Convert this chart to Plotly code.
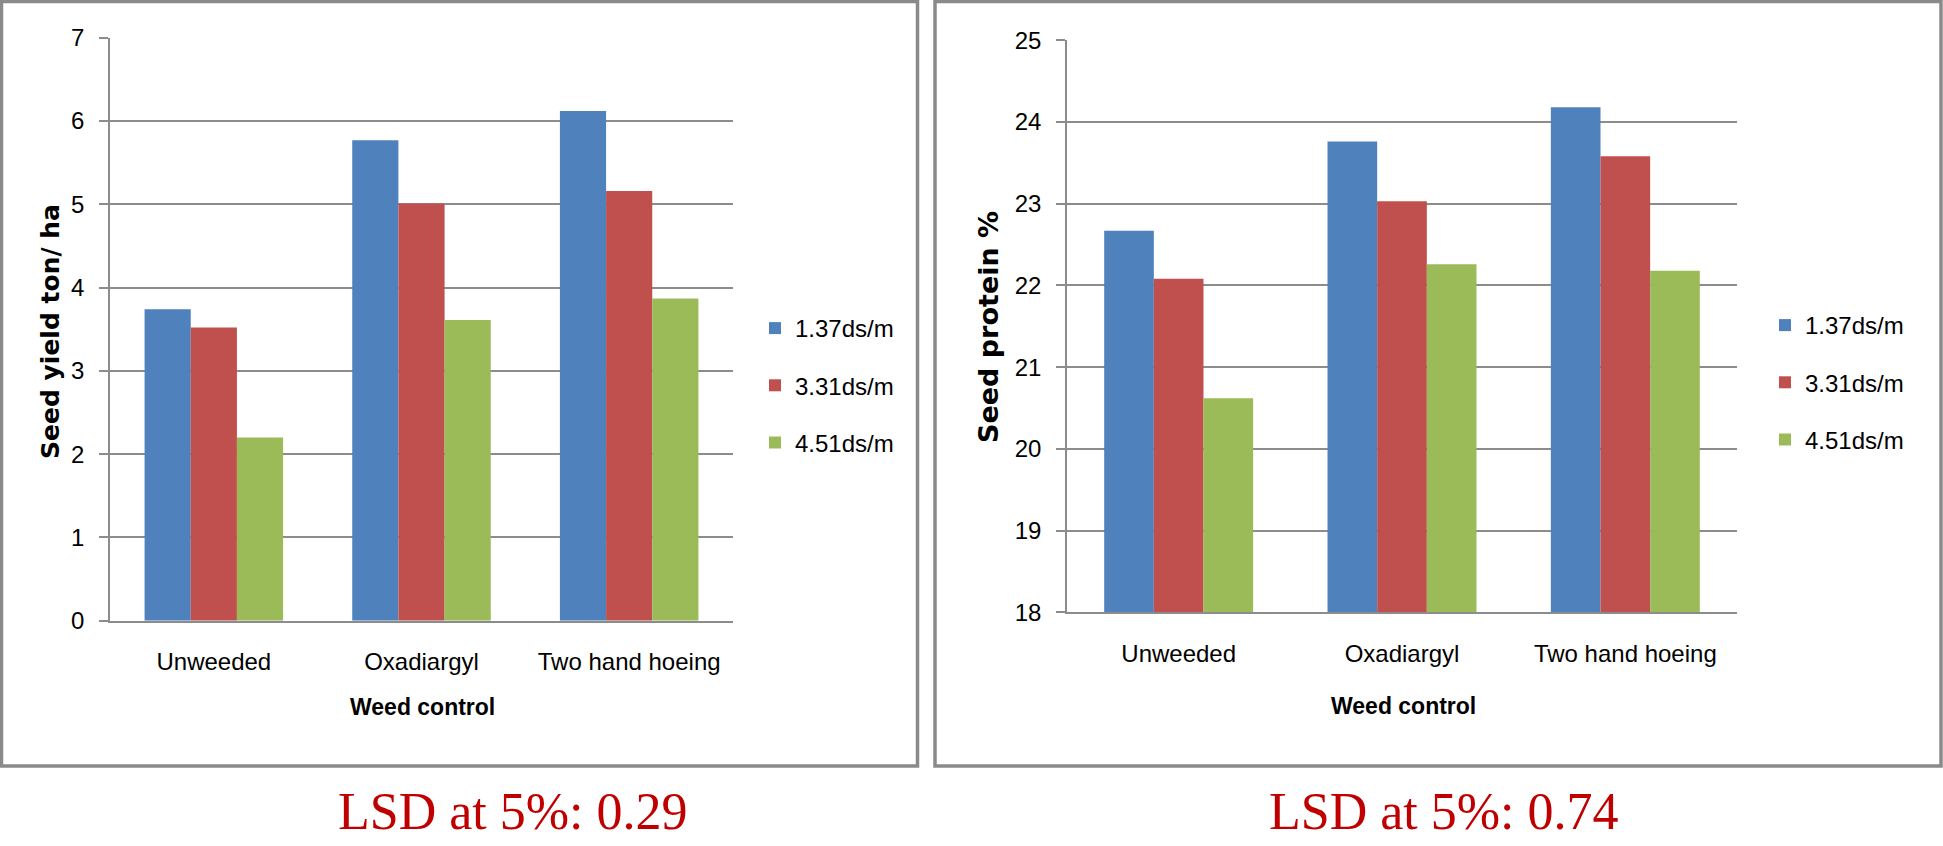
import plotly.graph_objects as go

# categories and series
weed_control = ["Unweeded", "Oxadiargyl", "Two hand hoeing"]
salinity = ["1.37ds/m", "3.31ds/m", "4.51ds/m"]

yield_137 = [3.74, 5.77, 6.12]
yield_331 = [3.52, 5.01, 5.16]
yield_451 = [2.20, 3.61, 3.87]

protein_137 = [22.67, 23.76, 24.18]
protein_331 = [22.08, 23.03, 23.58]
protein_451 = [20.62, 22.26, 22.18]

lsd_yield = "0.29"
lsd_protein = "0.74"

W, H = 1943, 846
colors = ["#4F81BD", "#C0504D", "#9BBB59"]
GRID = "#8c8c8c"
SANS = "Liberation Sans, Arial, sans-serif"


def px(x):
    return x / W


def py(y):
    return 1 - y / H


fig = go.Figure()

for i, vals in enumerate([yield_137, yield_331, yield_451]):
    fig.add_trace(go.Bar(x=weed_control, y=vals, name=salinity[i],
                         marker=dict(color=colors[i], line=dict(width=0)),
                         xaxis="x", yaxis="y", legend="legend",
                         legendgroup="a%d" % i))

for i, vals in enumerate([protein_137, protein_331, protein_451]):
    fig.add_trace(go.Bar(x=weed_control, y=vals, name=salinity[i],
                         marker=dict(color=colors[i], line=dict(width=0)),
                         xaxis="x2", yaxis="y2", legend="legend2",
                         legendgroup="b%d" % i))

tick_font = dict(family=SANS, size=24, color="#000000")

xcommon = dict(showline=True, linecolor=GRID, linewidth=1.5, ticks="",
               tickfont=tick_font, showgrid=False, ticklabelstandoff=19,
               automargin=False)
ycommon = dict(showgrid=True, gridcolor=GRID, gridwidth=1.5, showline=True,
               linecolor=GRID, linewidth=1.5, ticks="outside", ticklen=9,
               tickcolor=GRID, tickwidth=1.5, dtick=1, zeroline=False,
               tickfont=tick_font, ticklabelstandoff=10, automargin=False)

legend_common = dict(xanchor="left", yanchor="top", font=dict(family=SANS, size=24, color="#000000"),
                     bgcolor="rgba(0,0,0,0)", tracegroupgap=23, itemwidth=30)

fig.update_layout(
    width=W, height=H, autosize=False,
    margin=dict(l=0, r=0, t=0, b=0, pad=0, autoexpand=False),
    paper_bgcolor="white", plot_bgcolor="white",
    barmode="group", bargap=0.333, bargroupgap=0,
    xaxis=dict(domain=[px(110), px(733)], anchor="y", **xcommon),
    yaxis=dict(domain=[py(620.7), py(37.7)], anchor="x", range=[0, 7], **ycommon),
    xaxis2=dict(domain=[px(1067), px(1737)], anchor="y2", **xcommon),
    yaxis2=dict(domain=[py(612.3), py(40.2)], anchor="x2", range=[18, 25], **ycommon),
    legend=dict(x=px(755), y=py(306), **legend_common),
    legend2=dict(x=px(1765), y=py(303), **legend_common),
)

# panel frames
for x0, x1 in [(1.5, 917.5), (935, 1941)]:
    fig.add_shape(type="rect", xref="paper", yref="paper",
                  x0=px(x0), x1=px(x1), y0=py(766), y1=py(1.5),
                  line=dict(color="#8a8a8a", width=3.5), fillcolor="rgba(0,0,0,0)",
                  layer="below")

title_font = dict(family="DejaVu Sans, Verdana, sans-serif", size=25, color="#000000")
xt_font = dict(family=SANS, size=23, color="#000000")
lsd_font = dict(family="Liberation Serif, Times New Roman, serif", size=52, color="#C00000")

annotations = [
    dict(text="<b>Seed yield ton/ ha</b>", x=px(50), y=py(332), textangle=-90, font=title_font),
    dict(text="<b>Seed protein %</b>", x=px(988), y=py(327), textangle=-90,
         font=dict(title_font, size=27)),
    dict(text="<b>Weed control</b>", x=px(422), y=py(707), font=xt_font),
    dict(text="<b>Weed control</b>", x=px(1403), y=py(706), font=xt_font),
    dict(text="LSD at 5%: " + lsd_yield, x=px(513), y=py(811), font=lsd_font),
    dict(text="LSD at 5%: " + lsd_protein, x=px(1444), y=py(811), font=lsd_font),
]
for a in annotations:
    fig.add_annotation(xref="paper", yref="paper", xanchor="center", yanchor="middle",
                       showarrow=False, **a)

fig.write_html("out.html", config={"displayModeBar": False},
               post_script="document.body.style.margin='0';document.body.style.overflow='hidden';")
